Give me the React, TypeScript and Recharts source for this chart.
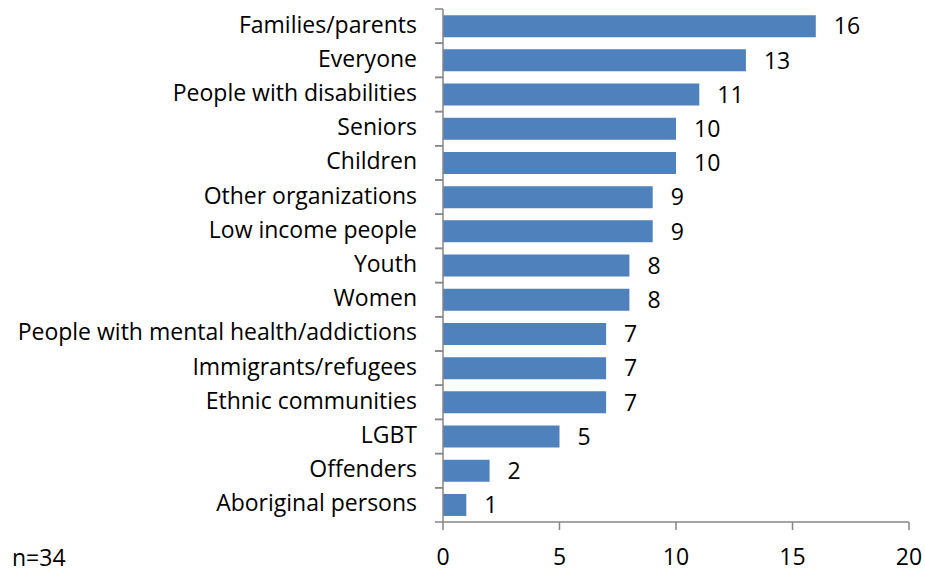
import React from 'react';
import { BarChart, Bar, XAxis, YAxis, LabelList } from 'recharts';

const categories = [
  'Families/parents',
  'Everyone',
  'People with disabilities',
  'Seniors',
  'Children',
  'Other organizations',
  'Low income people',
  'Youth',
  'Women',
  'People with mental health/addictions',
  'Immigrants/refugees',
  'Ethnic communities',
  'LGBT',
  'Offenders',
  'Aboriginal persons',
];
const counts = [16, 13, 11, 10, 10, 9, 9, 8, 8, 7, 7, 7, 5, 2, 1];
const xTicks = [0, 5, 10, 15, 20];
const sampleNote = 'n=34';

const data = categories.map((name, i) => ({ name, value: counts[i] }));

const FONT = '"Open Sans", sans-serif';
const FS = 23;
const AXIS = '#868686';
const BAND = 34.2;

const CategoryTick = ({ x, y, payload }: any) => (
  <g>
    <line x1={x - 8} x2={x} y1={y - BAND / 2} y2={y - BAND / 2} stroke={AXIS} strokeWidth={1.5} />
    <line x1={x - 8} x2={x} y1={y + BAND / 2} y2={y + BAND / 2} stroke={AXIS} strokeWidth={1.5} />
    <text x={x - 26} y={y} dy="0.28em" textAnchor="end" fill="#000" fontSize={FS} fontFamily={FONT}>
      {payload.value}
    </text>
  </g>
);

export default function App() {
  return (
    <div style={{ position: 'absolute', left: 0, top: 0, width: 925, height: 573, background: '#fff' }}>
      <BarChart
        width={925}
        height={573}
        data={data}
        layout="vertical"
        margin={{ top: 9, right: 16, bottom: 0, left: 0 }}
        barCategoryGap="18%"
      >
        <XAxis
          type="number"
          domain={[0, 20]}
          ticks={xTicks}
          interval={0}
          height={51}
          tickSize={8}
          tickMargin={19}
          axisLine={{ stroke: AXIS, strokeWidth: 1.5 }}
          tickLine={{ stroke: AXIS, strokeWidth: 1.5 }}
          tick={{ fill: '#000', fontSize: FS, fontFamily: FONT }}
        />
        <YAxis
          type="category"
          dataKey="name"
          width={443}
          interval={0}
          tickSize={0}
          tickMargin={0}
          tickLine={false}
          axisLine={{ stroke: AXIS, strokeWidth: 1.5 }}
          tick={<CategoryTick />}
        />
        <Bar dataKey="value" fill="#4F81BD" isAnimationActive={false}>
          <LabelList dataKey="value" position="right" offset={18} fill="#000" fontSize={FS} fontFamily={FONT} />
        </Bar>
      </BarChart>
      <svg width={120} height={40} style={{ position: 'absolute', left: 0, top: 533 }}>
        <text x={12} y={33} fontSize={FS} fontFamily={FONT} fill="#000">
          {sampleNote}
        </text>
      </svg>
    </div>
  );
}
